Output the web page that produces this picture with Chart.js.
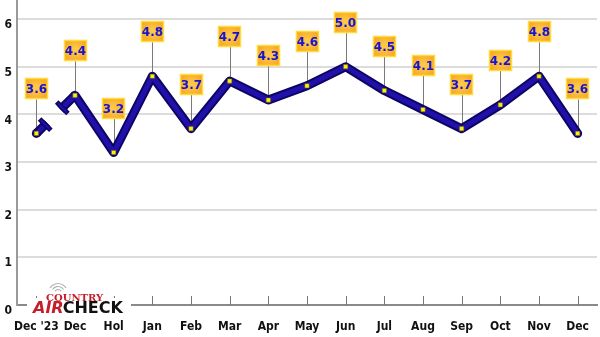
<!DOCTYPE html>
<html>
<head>
<meta charset="utf-8">
<script src="https://cdn.jsdelivr.net/npm/chart.js@4/dist/chart.umd.min.js"></script>
<style>
  html, body { margin: 0; padding: 0; background: #fff; }
  #wrap { position: relative; width: 600px; height: 337px; }
</style>
</head>
<body>
<div id="wrap"><canvas id="chart" width="600" height="337"></canvas></div>
<script>
const months = ["Dec '23", "Dec", "Hol", "Jan", "Feb", "Mar", "Apr", "May", "Jun", "Jul", "Aug", "Sep", "Oct", "Nov", "Dec"];
const ratings = [3.6, 4.4, 3.2, 4.8, 3.7, 4.7, 4.3, 4.6, 5.0, 4.5, 4.1, 3.7, 4.2, 4.8, 3.6];
const yTicks = [0, 1, 2, 3, 4, 5, 6];

// broken first segment (Dec '23 -> Dec)
const breakAt = [15, 34];
const firstSeg = (ctx, a, b) => ctx.p0DataIndex === 0 ? a : b;
const segmentStyle = {
  borderDash: (ctx) => firstSeg(ctx, [breakAt[0], breakAt[1] - breakAt[0], 200], undefined),
  borderCapStyle: (ctx) => firstSeg(ctx, "butt", undefined)
};

const leaders = {
  id: "leaders",
  beforeDatasetsDraw(chart) {
    const ctx = chart.ctx;
    const pts = chart.getDatasetMeta(1).data;
    ctx.save();
    ctx.strokeStyle = "#7a7a7a";
    ctx.lineWidth = 1;
    pts.forEach((p) => {
      ctx.beginPath();
      ctx.moveTo(Math.round(p.x) + 0.5, p.y - 34);
      ctx.lineTo(Math.round(p.x) + 0.5, p.y);
      ctx.stroke();
    });
    ctx.restore();
  }
};

const xTicksInside = {
  id: "xTicksInside",
  beforeDatasetsDraw(chart) {
    const ctx = chart.ctx;
    const x = chart.scales.x;
    const bottom = chart.chartArea.bottom;
    ctx.save();
    ctx.strokeStyle = "#777";
    ctx.lineWidth = 1;
    months.forEach((m, i) => {
      const px = Math.round(x.getPixelForValue(i)) + 0.5;
      ctx.beginPath();
      ctx.moveTo(px, bottom - 9);
      ctx.lineTo(px, bottom);
      ctx.stroke();
    });
    ctx.restore();
  }
};

const valueBoxes = {
  id: "valueBoxes",
  afterDatasetsDraw(chart) {
    const ctx = chart.ctx;
    const pts = chart.getDatasetMeta(1).data;

    // flat bars on both sides of the break
    const a = pts[0], b = pts[1];
    const dx = b.x - a.x, dy = b.y - a.y;
    const len = Math.hypot(dx, dy);
    const ux = dx / len, uy = dy / len;
    ctx.save();
    ctx.lineCap = "butt";
    breakAt.forEach((d, k) => {
      const off = k === 0 ? -2.5 : 2.5;
      const cx = a.x + ux * (d + off), cy = a.y + uy * (d + off);
      ctx.strokeStyle = "#0d0563";
      ctx.lineWidth = 5;
      ctx.beginPath();
      ctx.moveTo(cx - uy * 8, cy + ux * 8);
      ctx.lineTo(cx + uy * 8, cy - ux * 8);
      ctx.stroke();
      ctx.strokeStyle = "#2210aa";
      ctx.lineWidth = 2;
      ctx.beginPath();
      ctx.moveTo(cx - uy * 6.5, cy + ux * 6.5);
      ctx.lineTo(cx + uy * 6.5, cy - ux * 6.5);
      ctx.stroke();
    });
    ctx.restore();

    ctx.save();
    ctx.font = "bold 12px 'DejaVu Sans', sans-serif";
    ctx.textAlign = "center";
    ctx.textBaseline = "middle";
    pts.forEach((p, i) => {
      const w = 23, h = 21;
      const x0 = Math.round(p.x - w / 2), y0 = Math.round(p.y - 34 - h);
      const g = ctx.createRadialGradient(x0 + w / 2, y0 + h / 2, 2, x0 + w / 2, y0 + h / 2, 15);
      g.addColorStop(0, "#ffc84a");
      g.addColorStop(1, "#f5a019");
      ctx.fillStyle = g;
      ctx.fillRect(x0, y0, w, h);
      ctx.strokeStyle = "#ffdc3a";
      ctx.lineWidth = 1.5;
      ctx.strokeRect(x0 + 0.5, y0 + 0.5, w - 1, h - 1);
      ctx.fillStyle = "#1414d6";
      ctx.fillText(ratings[i].toFixed(1), x0 + w / 2, y0 + h / 2 + 1);
    });
    ctx.restore();
  }
};

const logo = {
  id: "logo",
  afterDraw(chart) {
    const ctx = chart.ctx;
    ctx.save();
    ctx.fillStyle = "#fff";
    ctx.fillRect(27, 298, 104, 18);
    // signal arcs
    ctx.strokeStyle = "#b5b5b5";
    ctx.lineWidth = 1.2;
    [3.5, 6.5, 9.5].forEach((r) => {
      ctx.beginPath();
      ctx.arc(58, 293, r, Math.PI * 1.18, Math.PI * 1.82);
      ctx.stroke();
    });
    ctx.textBaseline = "alphabetic";
    ctx.fillStyle = "#c41e2a";
    ctx.font = "bold 10px 'DejaVu Serif', serif";
    ctx.fillText("COUNTRY", 46, 301);
    ctx.font = "italic bold 16px 'DejaVu Sans', sans-serif";
    ctx.fillText("AIR", 33, 313);
    const w = ctx.measureText("AIR").width;
    ctx.fillStyle = "#111";
    ctx.font = "bold 16px 'DejaVu Sans', sans-serif";
    ctx.fillText("CHECK", 33 + w - 1, 313);
    ctx.restore();
  }
};

new Chart(document.getElementById("chart"), {
  type: "line",
  data: {
    labels: months,
    datasets: [
      {
        data: ratings,
        order: 2,
        borderColor: "#0d0563",
        borderWidth: 9,
        borderCapStyle: "round",
        borderJoinStyle: "round",
        // rounded start cap, since the first segment uses butt caps
        pointRadius: (ctx) => ctx.dataIndex === 0 ? 4.5 : 0,
        pointBackgroundColor: "#0d0563",
        pointBorderWidth: 0,
        tension: 0,
        segment: segmentStyle
      },
      {
        data: ratings,
        order: 1,
        borderColor: "#2210aa",
        borderWidth: 5,
        borderCapStyle: "round",
        borderJoinStyle: "round",
        pointStyle: "rect",
        pointRadius: 3,
        pointBackgroundColor: "#fff200",
        pointBorderColor: "#6b6b20",
        pointBorderWidth: 0.5,
        tension: 0,
        segment: segmentStyle
      }
    ]
  },
  options: {
    responsive: false,
    animation: false,
    layout: { autoPadding: false, padding: { left: 0, right: 3, top: 0, bottom: 0 } },
    plugins: { legend: { display: false }, tooltip: { enabled: false } },
    scales: {
      x: {
        offset: true,
        afterFit: (s) => { s.height = 32; s.paddingLeft = 0; s.paddingRight = 0; },
        grid: { display: false, drawTicks: false },
        border: { display: true, color: "#8a8a8a", width: 2 },
        ticks: {
          color: "#111",
          font: { family: "'DejaVu Sans Condensed', 'DejaVu Sans', sans-serif", size: 12, weight: "bold" },
          padding: 15,
          maxRotation: 0,
          autoSkip: false
        }
      },
      y: {
        min: 0,
        max: 6.4,
        afterFit: (s) => { s.width = 17; s.paddingTop = 0; s.paddingBottom = 0; },
        afterBuildTicks: (s) => { s.ticks = yTicks.map((v) => ({ value: v })); },
        grid: { color: "#dcdcdc", lineWidth: 2, drawTicks: false },
        border: { display: true, color: "#9a9a9a", width: 2 },
        ticks: {
          color: "#111",
          font: { family: "'DejaVu Sans Condensed', 'DejaVu Sans', sans-serif", size: 12, weight: "bold" },
          padding: 5,
          labelOffset: 6
        }
      }
    }
  },
  plugins: [leaders, xTicksInside, valueBoxes, logo]
});
</script>
</body>
</html>
